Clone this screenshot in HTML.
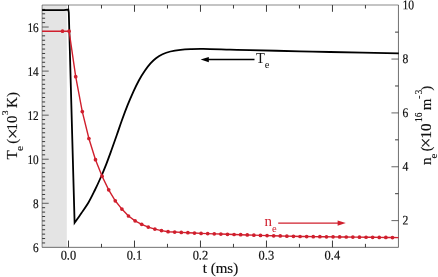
<!DOCTYPE html>
<html><head><meta charset="utf-8"><title>Te and ne vs t</title>
<style>html,body{margin:0;padding:0;background:#fff;overflow:hidden}svg{display:block}</style></head>
<body>
<svg width="438" height="277" viewBox="0 0 438 277">
<rect width="438" height="277" fill="#fff"/>
<rect x="42.1" y="5.0" width="24.70" height="242.35" fill="#e4e4e4"/>
<path d="M68.50 247.35v-6.8 M68.50 5.0v6.8 M101.49 247.35v-3.5 M101.49 5.0v3.5 M134.49 247.35v-6.8 M134.49 5.0v6.8 M167.48 247.35v-3.5 M167.48 5.0v3.5 M200.48 247.35v-6.8 M200.48 5.0v6.8 M233.47 247.35v-3.5 M233.47 5.0v3.5 M266.47 247.35v-6.8 M266.47 5.0v6.8 M299.46 247.35v-3.5 M299.46 5.0v3.5 M332.46 247.35v-6.8 M332.46 5.0v6.8 M365.45 247.35v-3.5 M365.45 5.0v3.5 M42.1 242.94h3.0 M42.1 238.54h3.0 M42.1 234.13h3.0 M42.1 229.72h3.0 M42.1 225.32h3.0 M42.1 220.91h3.0 M42.1 216.51h3.0 M42.1 212.10h3.0 M42.1 207.69h3.0 M42.1 198.88h3.0 M42.1 194.47h3.0 M42.1 190.07h3.0 M42.1 185.66h3.0 M42.1 181.25h3.0 M42.1 176.85h3.0 M42.1 172.44h3.0 M42.1 168.04h3.0 M42.1 163.63h3.0 M42.1 154.82h3.0 M42.1 150.41h3.0 M42.1 146.00h3.0 M42.1 141.60h3.0 M42.1 137.19h3.0 M42.1 132.78h3.0 M42.1 128.38h3.0 M42.1 123.97h3.0 M42.1 119.57h3.0 M42.1 110.75h3.0 M42.1 106.35h3.0 M42.1 101.94h3.0 M42.1 97.53h3.0 M42.1 93.13h3.0 M42.1 88.72h3.0 M42.1 84.31h3.0 M42.1 79.91h3.0 M42.1 75.50h3.0 M42.1 66.69h3.0 M42.1 62.28h3.0 M42.1 57.88h3.0 M42.1 53.47h3.0 M42.1 49.06h3.0 M42.1 44.66h3.0 M42.1 40.25h3.0 M42.1 35.84h3.0 M42.1 31.44h3.0 M42.1 22.63h3.0 M42.1 18.22h3.0 M42.1 13.81h3.0 M42.1 9.41h3.0 M398.45 193.69h-3.4 M398.45 139.84h-3.4 M398.45 85.98h-3.4 M398.45 32.13h-3.4" stroke="#262626" stroke-width="0.9" fill="none"/>
<path d="M42.1 203.29h6.6 M42.1 159.22h6.6 M42.1 115.16h6.6 M42.1 71.10h6.6 M42.1 27.03h6.6 M398.45 220.62h-7 M398.45 166.77h-7 M398.45 112.91h-7 M398.45 59.06h-7" stroke="#333" stroke-width="0.75" fill="none"/>
<path d="M42.1 247.35V5.0H398.45" fill="none" stroke="#3a3a3a" stroke-width="0.6"/>
<path d="M42.1 247.35H398.45V5.0" fill="none" stroke="#333" stroke-width="0.7"/>
<path d="M42.10 10.20 L60.00 10.20 L64.00 10.10 L68.30 9.60 L68.80 12.50 L74.60 222.80C75.72 221.20 78.98 216.58 81.30 213.20C83.62 209.82 86.27 206.28 88.50 202.50C90.73 198.72 92.70 194.58 94.70 190.50C96.70 186.42 98.58 182.37 100.50 178.00C102.42 173.63 104.37 168.97 106.20 164.30C108.03 159.63 109.73 154.88 111.50 150.00C113.27 145.12 115.05 140.00 116.80 135.00C118.55 130.00 120.20 124.97 122.00 120.00C123.80 115.03 125.70 109.93 127.60 105.20C129.50 100.47 131.50 95.77 133.40 91.60C135.30 87.43 137.07 83.72 139.00 80.20C140.93 76.68 143.08 73.30 145.00 70.50C146.92 67.70 148.67 65.45 150.50 63.40C152.33 61.35 154.00 59.73 156.00 58.20C158.00 56.67 160.10 55.32 162.50 54.20C164.90 53.08 167.40 52.23 170.40 51.50C173.40 50.77 177.13 50.20 180.50 49.80C183.87 49.40 186.80 49.25 190.60 49.10C194.40 48.95 196.73 48.82 203.30 48.90C209.87 48.98 222.22 49.40 230.00 49.60C237.78 49.80 238.33 49.82 250.00 50.10C261.67 50.38 286.67 50.98 300.00 51.30C313.33 51.62 313.53 51.65 330.00 52.00C346.47 52.35 387.33 53.17 398.80 53.40" stroke="#000" stroke-width="1.8" fill="none" stroke-linejoin="miter"/>
<path d="M42.1 31.2 L62.50 31.20 L69.10 31.20 L75.70 76.70 L82.29 111.60 L88.89 138.50 L95.49 159.70 L102.09 176.20 L108.69 189.80 L115.29 200.80 L121.89 209.10 L128.49 216.00 L135.09 220.80 L141.69 224.30 L148.29 227.10 L154.88 229.10 L161.48 230.60 L168.08 231.70 L174.68 232.04 L181.28 232.38 L187.88 232.72 L194.48 233.06 L201.08 233.40 L207.68 233.62 L214.28 233.84 L220.87 234.06 L227.47 234.28 L234.07 234.50 L240.67 234.72 L247.27 234.94 L253.87 235.16 L260.47 235.38 L267.07 235.60 L273.67 235.78 L280.27 235.96 L286.87 236.14 L293.46 236.32 L300.06 236.50 L306.66 236.57 L313.26 236.65 L319.86 236.72 L326.46 236.79 L333.06 236.87 L339.66 236.94 L346.26 237.01 L352.86 237.09 L359.46 237.16 L366.05 237.23 L372.65 237.31 L379.25 237.38 L385.85 237.45 L392.45 237.53 L398.45 237.65" stroke="#d01f2d" stroke-width="1.4" fill="none"/>
<circle cx="62.50" cy="31.20" r="1.85" fill="#d01f2d"/>
<circle cx="69.10" cy="31.20" r="1.85" fill="#d01f2d"/>
<circle cx="75.70" cy="76.70" r="1.85" fill="#d01f2d"/>
<circle cx="82.29" cy="111.60" r="1.85" fill="#d01f2d"/>
<circle cx="88.89" cy="138.50" r="1.85" fill="#d01f2d"/>
<circle cx="95.49" cy="159.70" r="1.85" fill="#d01f2d"/>
<circle cx="102.09" cy="176.20" r="1.85" fill="#d01f2d"/>
<circle cx="108.69" cy="189.80" r="1.85" fill="#d01f2d"/>
<circle cx="115.29" cy="200.80" r="1.85" fill="#d01f2d"/>
<circle cx="121.89" cy="209.10" r="1.85" fill="#d01f2d"/>
<circle cx="128.49" cy="216.00" r="1.85" fill="#d01f2d"/>
<circle cx="135.09" cy="220.80" r="1.85" fill="#d01f2d"/>
<circle cx="141.69" cy="224.30" r="1.85" fill="#d01f2d"/>
<circle cx="148.29" cy="227.10" r="1.85" fill="#d01f2d"/>
<circle cx="154.88" cy="229.10" r="1.85" fill="#d01f2d"/>
<circle cx="161.48" cy="230.60" r="1.85" fill="#d01f2d"/>
<circle cx="168.08" cy="231.70" r="1.85" fill="#d01f2d"/>
<circle cx="174.68" cy="232.04" r="1.85" fill="#d01f2d"/>
<circle cx="181.28" cy="232.38" r="1.85" fill="#d01f2d"/>
<circle cx="187.88" cy="232.72" r="1.85" fill="#d01f2d"/>
<circle cx="194.48" cy="233.06" r="1.85" fill="#d01f2d"/>
<circle cx="201.08" cy="233.40" r="1.85" fill="#d01f2d"/>
<circle cx="207.68" cy="233.62" r="1.85" fill="#d01f2d"/>
<circle cx="214.28" cy="233.84" r="1.85" fill="#d01f2d"/>
<circle cx="220.87" cy="234.06" r="1.85" fill="#d01f2d"/>
<circle cx="227.47" cy="234.28" r="1.85" fill="#d01f2d"/>
<circle cx="234.07" cy="234.50" r="1.85" fill="#d01f2d"/>
<circle cx="240.67" cy="234.72" r="1.85" fill="#d01f2d"/>
<circle cx="247.27" cy="234.94" r="1.85" fill="#d01f2d"/>
<circle cx="253.87" cy="235.16" r="1.85" fill="#d01f2d"/>
<circle cx="260.47" cy="235.38" r="1.85" fill="#d01f2d"/>
<circle cx="267.07" cy="235.60" r="1.85" fill="#d01f2d"/>
<circle cx="273.67" cy="235.78" r="1.85" fill="#d01f2d"/>
<circle cx="280.27" cy="235.96" r="1.85" fill="#d01f2d"/>
<circle cx="286.87" cy="236.14" r="1.85" fill="#d01f2d"/>
<circle cx="293.46" cy="236.32" r="1.85" fill="#d01f2d"/>
<circle cx="300.06" cy="236.50" r="1.85" fill="#d01f2d"/>
<circle cx="306.66" cy="236.57" r="1.85" fill="#d01f2d"/>
<circle cx="313.26" cy="236.65" r="1.85" fill="#d01f2d"/>
<circle cx="319.86" cy="236.72" r="1.85" fill="#d01f2d"/>
<circle cx="326.46" cy="236.79" r="1.85" fill="#d01f2d"/>
<circle cx="333.06" cy="236.87" r="1.85" fill="#d01f2d"/>
<circle cx="339.66" cy="236.94" r="1.85" fill="#d01f2d"/>
<circle cx="346.26" cy="237.01" r="1.85" fill="#d01f2d"/>
<circle cx="352.86" cy="237.09" r="1.85" fill="#d01f2d"/>
<circle cx="359.46" cy="237.16" r="1.85" fill="#d01f2d"/>
<circle cx="366.05" cy="237.23" r="1.85" fill="#d01f2d"/>
<circle cx="372.65" cy="237.31" r="1.85" fill="#d01f2d"/>
<circle cx="379.25" cy="237.38" r="1.85" fill="#d01f2d"/>
<circle cx="385.85" cy="237.45" r="1.85" fill="#d01f2d"/>
<circle cx="392.45" cy="237.53" r="1.85" fill="#d01f2d"/>
<path d="M207 59.6H254.5" stroke="#000" stroke-width="1.5"/><path d="M200.6 59.6l8.2-2.7v5.4z" fill="#000"/>
<path d="M278.2 223.1H339" stroke="#d01f2d" stroke-width="1.3"/><path d="M345.8 223.1l-8.2-2.6v5.2z" fill="#d01f2d"/>
<text transform="translate(68.40 259.50) rotate(0.03) scale(0.94 1)" font-size="13.2" text-anchor="middle" font-family="Liberation Serif, serif" fill="#111" stroke="#111" stroke-width="0.2">0.0</text>
<text transform="translate(134.39 259.50) rotate(0.03) scale(0.94 1)" font-size="13.2" text-anchor="middle" font-family="Liberation Serif, serif" fill="#111" stroke="#111" stroke-width="0.2">0.1</text>
<text transform="translate(200.38 259.50) rotate(0.03) scale(0.94 1)" font-size="13.2" text-anchor="middle" font-family="Liberation Serif, serif" fill="#111" stroke="#111" stroke-width="0.2">0.2</text>
<text transform="translate(266.37 259.50) rotate(0.03) scale(0.94 1)" font-size="13.2" text-anchor="middle" font-family="Liberation Serif, serif" fill="#111" stroke="#111" stroke-width="0.2">0.3</text>
<text transform="translate(332.36 259.50) rotate(0.03) scale(0.94 1)" font-size="13.2" text-anchor="middle" font-family="Liberation Serif, serif" fill="#111" stroke="#111" stroke-width="0.2">0.4</text>
<text transform="translate(38.60 251.85) rotate(0.03) scale(0.85 1)" font-size="13.2" text-anchor="end" font-family="Liberation Serif, serif" fill="#111" stroke="#111" stroke-width="0.2">6</text>
<text transform="translate(38.60 207.79) rotate(0.03) scale(0.85 1)" font-size="13.2" text-anchor="end" font-family="Liberation Serif, serif" fill="#111" stroke="#111" stroke-width="0.2">8</text>
<text transform="translate(38.60 163.72) rotate(0.03) scale(0.85 1)" font-size="13.2" text-anchor="end" font-family="Liberation Serif, serif" fill="#111" stroke="#111" stroke-width="0.2">10</text>
<text transform="translate(38.60 119.66) rotate(0.03) scale(0.85 1)" font-size="13.2" text-anchor="end" font-family="Liberation Serif, serif" fill="#111" stroke="#111" stroke-width="0.2">12</text>
<text transform="translate(38.60 75.60) rotate(0.03) scale(0.85 1)" font-size="13.2" text-anchor="end" font-family="Liberation Serif, serif" fill="#111" stroke="#111" stroke-width="0.2">14</text>
<text transform="translate(38.60 31.53) rotate(0.03) scale(0.85 1)" font-size="13.2" text-anchor="end" font-family="Liberation Serif, serif" fill="#111" stroke="#111" stroke-width="0.2">16</text>
<text transform="translate(402.40 224.62) rotate(0.03) scale(0.88 1)" font-size="13.2" text-anchor="start" font-family="Liberation Serif, serif" fill="#111" stroke="#111" stroke-width="0.2">2</text>
<text transform="translate(402.40 170.77) rotate(0.03) scale(0.88 1)" font-size="13.2" text-anchor="start" font-family="Liberation Serif, serif" fill="#111" stroke="#111" stroke-width="0.2">4</text>
<text transform="translate(402.40 116.91) rotate(0.03) scale(0.88 1)" font-size="13.2" text-anchor="start" font-family="Liberation Serif, serif" fill="#111" stroke="#111" stroke-width="0.2">6</text>
<text transform="translate(402.40 63.06) rotate(0.03) scale(0.88 1)" font-size="13.2" text-anchor="start" font-family="Liberation Serif, serif" fill="#111" stroke="#111" stroke-width="0.2">8</text>
<text transform="translate(402.40 9.20) rotate(0.03) scale(0.88 1)" font-size="13.2" text-anchor="start" font-family="Liberation Serif, serif" fill="#111" stroke="#111" stroke-width="0.2">10</text>
<text x="220.5" y="272.8" font-size="15" text-anchor="middle" font-family="Liberation Serif, serif" fill="#111" stroke="#111" stroke-width="0.15">t (ms)</text>
<text x="256" y="62.9" font-size="14.5" font-family="Liberation Serif, serif" fill="#111">T<tspan dy="5.3" font-size="10.5">e</tspan></text>
<text x="264.6" y="226.2" font-size="15" font-family="Liberation Serif, serif" fill="#d01f2d">n<tspan dy="5.8" font-size="10.5">e</tspan></text>
<g transform="translate(16.7 0) rotate(-90)" font-family="Liberation Serif, serif" fill="#111" stroke="#111" stroke-width="0.15"><text x="-159.60" y="0" font-size="15" text-anchor="start">T</text><text x="-151.00" y="6.6" font-size="11.3" text-anchor="start">e</text><text x="-143.70" y="0" font-size="15" text-anchor="start">(</text><text x="-133.80" y="2.0" font-size="19.5" text-anchor="middle">×</text><text x="-130.40" y="0" font-size="14.8" text-anchor="start">10</text><text x="-115.00" y="-8.5" font-size="9.2" text-anchor="start">3</text><text x="-107.90" y="0" font-size="15" text-anchor="start">K</text><text x="-97.00" y="0" font-size="15" text-anchor="start">)</text></g>
<g transform="translate(430.5 0) rotate(-90)" font-family="Liberation Serif, serif" fill="#111" stroke="#111" stroke-width="0.15"><text x="-165.00" y="0" font-size="15" text-anchor="start">n</text><text x="-158.40" y="6.8" font-size="10.8" text-anchor="start">e</text><text x="-151.20" y="0" font-size="14.2" text-anchor="start">(</text><text x="-142.90" y="1.9" font-size="19" text-anchor="middle">×</text><text x="-138.50" y="0" font-size="15" text-anchor="start">10</text><text x="-122.10" y="-8.7" font-size="9.5" text-anchor="start">16</text><text x="-110.20" y="0" font-size="15" text-anchor="start">m</text><text x="-98.80" y="-8.7" font-size="10" text-anchor="start">-</text><text x="-94.40" y="-8.7" font-size="9.5" text-anchor="start">3</text><text x="-90.80" y="0" font-size="15" text-anchor="start">)</text></g>
</svg>
</body></html>
